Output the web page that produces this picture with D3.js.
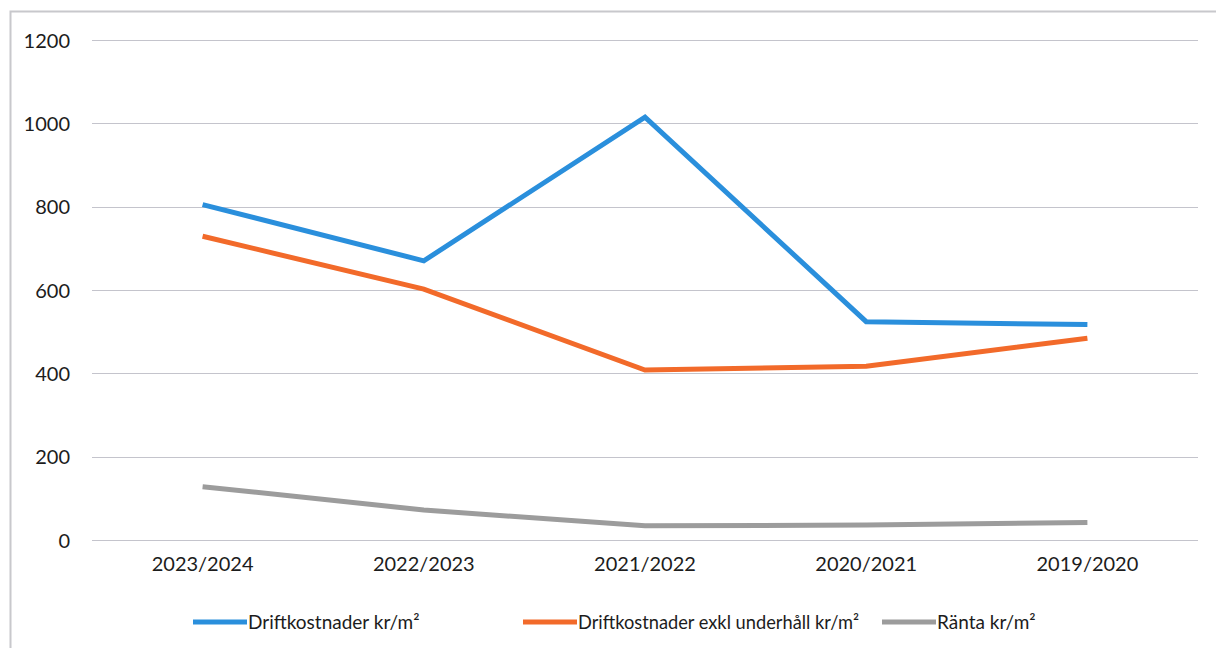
<!DOCTYPE html>
<html>
<head>
<meta charset="utf-8">
<script src="https://cdn.jsdelivr.net/npm/d3@7"></script>
<style>
  body { margin: 0; background: #fff; }
  svg { display: block; }
  text { font-family: Lato, "Open Sans", "Noto Sans", sans-serif; fill: #1c1c1c; }
</style>
</head>
<body>
<div id="chart"></div>
<script>
// chart values
const years = ["2023/2024", "2022/2023", "2021/2022", "2020/2021", "2019/2020"];
const drift = [805, 670, 1015, 524, 517];
const driftExkl = [729, 602, 408, 417, 484];
const ranta = [128, 72, 34, 36, 42];
const yTicks = [0, 200, 400, 600, 800, 1000, 1200];
const seriesNames = ["Driftkostnader kr/m\u00b2", "Driftkostnader exkl underh\u00e5ll kr/m\u00b2", "R\u00e4nta kr/m\u00b2"];
const seriesColors = ["#2a8fdc", "#f26a2a", "#9c9c9c"];

var W = 1216, H = 648;
var margin = { top: 40, right: 18, bottom: 108, left: 92 },
    width = W - margin.left - margin.right,
    height = H - margin.top - margin.bottom;

var svg = d3.select("#chart")
    .append("svg")
    .attr("width", W)
    .attr("height", H);

// scanned frame around the chart (left and top edges visible)
svg.append("path")
    .attr("d", "M10.5," + H + "V11.5H" + W)
    .attr("fill", "none")
    .attr("stroke", "#c8c8cc")
    .attr("stroke-width", 2);

var g = svg.append("g")
    .attr("transform", "translate(" + margin.left + "," + margin.top + ")");

var x = d3.scaleBand()
    .domain(years)
    .range([0, width]);

var y = d3.scaleLinear()
    .domain([0, 1200])
    .range([height, 0]);

// gridlines
g.append("g")
    .selectAll("line")
    .data(yTicks)
    .enter()
    .append("line")
    .attr("x1", 0)
    .attr("x2", width)
    .attr("y1", function (d) { return Math.round(y(d)) + 0.5; })
    .attr("y2", function (d) { return Math.round(y(d)) + 0.5; })
    .attr("stroke", "#c4c4cc")
    .attr("stroke-width", 1.2);

// y axis labels
var yAxis = g.append("g")
    .call(d3.axisLeft(y).tickValues(yTicks).tickFormat(d3.format("d")).tickSize(0).tickPadding(22));
yAxis.select(".domain").remove();
yAxis.selectAll("text")
    .style("font-size", "20px")
    .attr("dy", "0.35em");

// x axis labels
var xAxis = g.append("g")
    .attr("transform", "translate(0," + height + ")")
    .call(d3.axisBottom(x).tickSize(0).tickPadding(17));
xAxis.select(".domain").remove();
xAxis.selectAll("text")
    .style("font-size", "20px");

var line = d3.line()
    .x(function (d, i) { return x(years[i]) + x.bandwidth() / 2; })
    .y(function (d) { return y(d); });

[drift, driftExkl, ranta].forEach(function (vals, i) {
    g.append("path")
        .datum(vals)
        .attr("fill", "none")
        .attr("stroke", seriesColors[i])
        .attr("stroke-width", 5)
        .attr("stroke-linejoin", "miter")
        .attr("d", line);
});

// legend; the original font is narrower, so squeeze a label only if it runs too long
var legendX = [193, 523, 882];
var legendW = [193, 281, 116];
var legend = svg.append("g")
    .attr("transform", "translate(0,622)");
seriesNames.forEach(function (name, i) {
    legend.append("line")
        .attr("x1", legendX[i])
        .attr("x2", legendX[i] + 54)
        .attr("y1", 0)
        .attr("y2", 0)
        .attr("stroke", seriesColors[i])
        .attr("stroke-width", 5);
    var t = legend.append("text")
        .attr("x", legendX[i] + 55)
        .attr("y", 0)
        .attr("dy", "0.35em")
        .style("font-size", "19px")
        .text(name);
    if (t.node().getComputedTextLength() > legendW[i]) {
        t.attr("textLength", legendW[i]).attr("lengthAdjust", "spacingAndGlyphs");
    }
});
</script>
</body>
</html>
